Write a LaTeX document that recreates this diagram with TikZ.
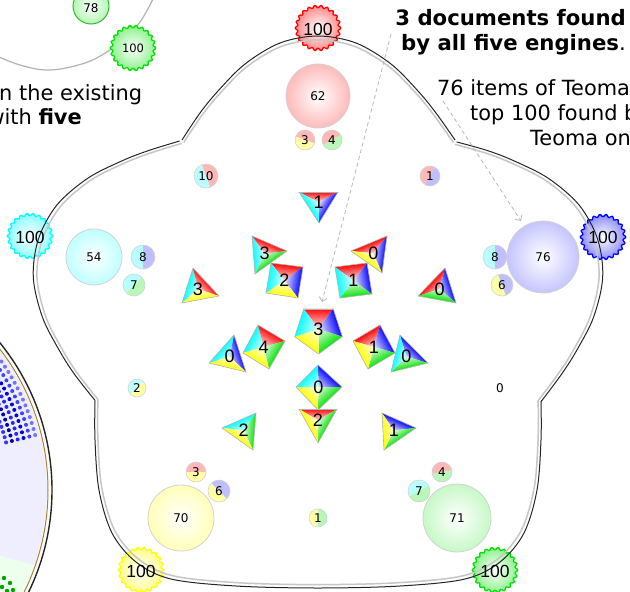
\documentclass[tikz,border=0pt]{standalone}
\usepackage{fontspec}
\setmainfont{DejaVu Sans}
\newfontfamily\arialf{Liberation Sans}
\usetikzlibrary{arrows.meta}
\definecolor{cR}{RGB}{255,0,0}
\definecolor{cB}{RGB}{0,0,255}
\definecolor{cG}{RGB}{0,225,0}
\definecolor{cY}{RGB}{255,255,0}
\definecolor{cC}{RGB}{0,255,255}
\definecolor{lav}{RGB}{238,238,255}
\definecolor{brn}{RGB}{175,125,55}

\tikzset{
  anno/.style={font=\fontsize{20.9}{24}\selectfont, inner sep=0pt},
  annob/.style={font=\fontsize{21.2}{24}\selectfont, inner sep=0pt},
  clabel/.style={font=\fontsize{12}{12}\selectfont, inner sep=0pt},
  polylabel/.style={font=\arialf\fontsize{18}{18}\selectfont, inner sep=0pt},
  badgelabel/.style={font=\arialf\fontsize{17.5}{18}\selectfont, inner sep=0pt},
  polyedge/.style={draw=gray!60, line width=0.6pt, line cap=round},
  bigborder/.style={draw=gray!35, line width=0.8pt},
  pairborder/.style={draw=gray!35, line width=0.6pt},
  outl/.style={draw=black!85, line width=1.0pt},
  outlin/.style={draw=gray!45, line width=1.5pt},
  callout/.style={draw=gray!55, line width=0.8pt, dash pattern=on 4pt off 3pt,
                  -{Straight Barb[length=4pt,width=8pt]}},
}

% sector of a polygon: centre (#1,#2), edge (#3,#4)-(#5,#6), colour #7
\newcommand\sect[7]{%
  \pgfmathsetmacro\sEx{#5-#3}%
  \pgfmathsetmacro\sEy{#6-#4}%
  \pgfmathsetmacro\sL{veclen(\sEx,\sEy)}%
  \pgfmathsetmacro\sNx{(\sEy)/\sL}%
  \pgfmathsetmacro\sNy{-(\sEx)/\sL}%
  \pgfmathsetmacro\sD{(#3-#1)*(\sNx)+(#4-#2)*(\sNy)}%
  \pgfmathsetmacro\sS{ifthenelse(\sD<0,-1,1)}%
  \pgfmathsetmacro\sA{atan2(-(\sNy)*\sS,(\sNx)*\sS)}%
  \pgfmathsetmacro\sD{abs(\sD)}%
  \begin{scope}
    \clip (#1,#2)--(#3,#4)--(#5,#6)--cycle;
    \shade[transform canvas={shift={(#1,#2)},rotate=\sA},left color=white,right color=#7]
      (-2,-40) rectangle (\sD+1,40);
  \end{scope}}

% polygon: centre #1,#2 ; edge list ax/ay/bx/by/col ; label #4 ; name #5
\newcommand\polyg[5]{%
  \foreach \pax/\pay/\pbx/\pby/\pcol in {#3} {\sect{#1}{#2}{\pax}{\pay}{\pbx}{\pby}{\pcol}}
  \foreach \pax/\pay/\pbx/\pby/\pcol in {#3} {\draw[polyedge] (\pax,\pay)--(\pbx,\pby);}
  \node[polylabel] (#5) at (#1,#2) {#4};}

% engine badge: x y colour radius
\newcommand\badge[4]{%
  \shade[inner color=white, outer color=#3!45]
    plot[domain=0:360,samples=181,variable=\t]
    ({#1+(#4+1.2*cos(22*\t))*cos(\t)},{#2+(#4+1.2*cos(22*\t))*sin(\t)}) -- cycle;
  \draw[#3, line width=1.3pt]
    plot[domain=0:360,samples=181,variable=\t]
    ({#1+(#4+1.2*cos(22*\t))*cos(\t)},{#2+(#4+1.2*cos(22*\t))*sin(\t)}) -- cycle;}

% big circle: x y r colour label name
\newcommand\bigc[6]{%
  \shade[inner color=white, outer color=#4] (#1,#2) circle[radius=#3];
  \draw[bigborder] (#1,#2) circle[radius=#3];
  \node[clabel] (#6) at (#1,#2) {#5};}

% pair circle: x y r phi col1 col2 label name
\newcommand\pairc[8]{%
  \fill[#5] (#1,#2) ++(-#4-90:#3) arc[start angle=-#4-90, end angle=-#4+90, radius=#3] -- cycle;
  \fill[#6] (#1,#2) ++(-#4+90:#3) arc[start angle=-#4+90, end angle=-#4+270, radius=#3] -- cycle;
  \draw[pairborder] (#1,#2) circle[radius=#3];
  \node[clabel] (#8) at (#1,#2) {#7};}

\begin{document}
\begin{tikzpicture}[x=1pt,y=-1pt]
\path[use as bounding box] (0,0) rectangle (630,592);
\clip (0,0) rectangle (630,592);
\fill[white] (0,0) rectangle (630,592);

% ---- neighbouring diagram, top left
\draw[gray!60, line width=1.2pt] plot[smooth, tension=0.6] coordinates
  {(-10,53) (20,65) (50,70) (85,63) (110,50) (128,35) (140,22) (150,5) (156,-8)};
\shade[inner color=white, outer color=cG!30] (91,6) circle[radius=18];
\draw[draw=cG!60!gray, line width=1pt] (91,6) circle[radius=18];
\node[clabel] (o78) at (91,8) {78};
\badge{133}{48}{cG}{21.5}
\node[font=\fontsize{11.5}{12}\selectfont, inner sep=0pt] (o100) at (133,48) {100};

% ---- neighbouring diagram, bottom left
\begin{scope}
  \clip (-182,490) circle[radius=229];
  \fill[lav] (-182,490) circle[radius=229];
  \fill[green!7] (-10,553) -- (70,575) -- (70,600) -- (-10,600) -- cycle;
  \foreach \k/\cl in {0/blue!55, 1/blue!75, 2/blue!90!black, 3/blue!85, 4/blue!70!black, 5/blue!80} {
    \foreach \a in {-43,-41.4,...,-14} {
      \fill[\cl] ({-182+(224-6*\k)*cos(\a)},{490+(224-6*\k)*sin(\a)}) circle[radius=2];
    }
  }
  \foreach \p in {(4,578),(10,583),(2,587),(13,590),(7,591)}
    \fill[green!65!black] \p circle[radius=2.2];
\end{scope}
\draw[brn, line width=1pt] (-182,490) circle[radius=230];
\draw[black!85, line width=1.4pt] (-182,490) circle[radius=234];

% ---- engine badges
\badge{318}{28}{cR}{21.5}
\badge{603}{237}{cB}{21.5}
\badge{495}{570}{cG}{21.5}
\badge{141}{570}{cY}{21.5}
\badge{30}{236}{cC}{21.5}

% ---- outline (five lobes)
\draw[outl] plot[smooth, tension=0.55] coordinates {(182,140) (200,113) (218,91) (245,64) (280,43) (318,36) (356,43) (391,64) (418,91) (436,113) (455,140)};
\draw[outl, rotate around={-72:(318,330)}] plot[smooth, tension=0.55] coordinates {(182,140) (200,113) (218,91) (245,64) (280,43) (318,36) (356,43) (391,64) (418,91) (436,113) (455,140)};
\draw[outl, rotate around={72:(318,330)}] plot[smooth, tension=0.55] coordinates {(182,140) (200,113) (218,91) (245,64) (280,43) (318,36) (356,43) (391,64) (418,91) (436,113) (455,140)};
\draw[outl] plot[smooth, tension=0.55] coordinates {(541,401) (541,440) (537,490) (524,533) (500,562) (465,579) (400,586) (318,588) (236,586) (171,579) (136,562) (112,533) (99,490) (95,440) (95,401)};
\begin{scope}[shift={(318,330)}, scale=0.987, shift={(-318,-330)}]
\draw[outlin] plot[smooth, tension=0.55] coordinates {(182,140) (200,113) (218,91) (245,64) (280,43) (318,36) (356,43) (391,64) (418,91) (436,113) (455,140)};
\draw[outlin, rotate around={-72:(318,330)}] plot[smooth, tension=0.55] coordinates {(182,140) (200,113) (218,91) (245,64) (280,43) (318,36) (356,43) (391,64) (418,91) (436,113) (455,140)};
\draw[outlin, rotate around={72:(318,330)}] plot[smooth, tension=0.55] coordinates {(182,140) (200,113) (218,91) (245,64) (280,43) (318,36) (356,43) (391,64) (418,91) (436,113) (455,140)};
\draw[outlin] plot[smooth, tension=0.55] coordinates {(541,401) (541,440) (537,490) (524,533) (500,562) (465,579) (400,586) (318,588) (236,586) (171,579) (136,562) (112,533) (99,490) (95,440) (95,401)};
\end{scope}

% ---- badge labels
\node[badgelabel] (bR) at (318,29) {100};
\node[badgelabel] (bB) at (603,237) {100};
\node[badgelabel] (bG) at (495,571) {100};
\node[badgelabel] (bY) at (141,571) {100};
\node[badgelabel] (bC) at (30,237) {100};

% ---- single-engine circles
\bigc{318}{96}{32}{cR!27}{62}{sR}
\bigc{543}{257}{36}{cB!23}{76}{sB}
\bigc{457}{518}{34}{cG!22}{71}{sG}
\bigc{181}{518}{33}{cY!28}{70}{sY}
\bigc{94}{257}{28}{cC!25}{54}{sC}

% ---- two-engine circles
\pairc{305}{140}{10}{70}{cR!28}{cY!35}{3}{pRY}
\pairc{332}{140}{10}{120}{cR!28}{cG!28}{4}{pRG}
\pairc{206}{176}{12}{20}{cR!28}{cC!28}{10}{pRC}
\pairc{430}{176}{10}{150}{cR!28}{cB!25}{1}{pRB}
\pairc{143}{257}{12}{180}{cC!28}{cB!25}{8}{pCB}
\pairc{134}{285}{11}{135}{cC!28}{cG!28}{7}{pCG}
\pairc{495}{257}{12}{180}{cC!28}{cB!25}{8}{pBC}
\pairc{502}{285}{11}{200}{cY!35}{cB!25}{6}{pBY}
\pairc{137}{388}{9}{135}{cC!25}{cY!35}{2}{pCY}
\pairc{318}{518}{9}{180}{cY!35}{cG!28}{1}{pYG}
\pairc{196}{472}{10}{90}{cR!28}{cY!35}{3}{pYR}
\pairc{219}{491}{11}{45}{cB!25}{cY!35}{6}{pYB}
\pairc{442}{472}{10}{100}{cR!28}{cG!28}{4}{pGR}
\pairc{419}{491}{11}{120}{cC!28}{cG!28}{7}{pGC}
\node[clabel] (pBG) at (500,388) {0};

% ---- three-, four- and five-engine polygons
\polyg{318.7}{202.3}{299/192/338/192/cR, 338/192/319/223/cB, 319/223/299/192/cC}{1}{t1}
\polyg{264.7}{253.7}{252/236/287/251/cR, 287/251/255/274/cG, 255/274/252/236/cC}{3}{t2}
\polyg{284.5}{280.3}{271/263/303/267/cR, 303/267/298/298/cB, 298/298/266/293/cY, 266/293/271/263/cC}{2}{q1}
\polyg{353.5}{280.5}{335/267/367/263/cR, 367/263/372/294/cB, 372/294/340/298/cG, 340/298/335/267/cC}{1}{q2}
\polyg{373.3}{253.3}{351/251/387/236/cR, 387/236/382/273/cB, 382/273/351/251/cY}{0}{t3}
\polyg{198}{289}{182/303/193/268/cC, 193/268/219/296/cR, 219/296/182/303/cY}{3}{t4}
\polyg{439.7}{289}{418/296/445/268/cR, 445/268/456/303/cB, 456/303/418/296/cG}{0}{t5}
\polyg{318.5}{329}{303.8/308.8/333.2/308.8/cR, 333.2/308.8/342.3/336.7/cB, 342.3/336.7/318.5/354/cG, 318.5/354/294.7/336.7/cY, 294.7/336.7/303.8/308.8/cC}{3}{pent}
\polyg{263.75}{347}{243/353/258/325/cC, 258/325/285/341/cR, 285/341/269/369/cG, 269/369/243/353/cY}{4}{q3}
\polyg{229.7}{356.7}{209/363/234/335/cC, 234/335/246/372/cB, 246/372/209/363/cY}{0}{t6}
\polyg{374}{347}{353/341/380/325/cR, 380/325/395/353/cB, 395/353/368/369/cG, 368/369/353/341/cY}{1}{q4}
\polyg{406.3}{356.7}{400/335/428/363/cB, 428/363/391/372/cG, 391/372/400/335/cC}{0}{t7}
\polyg{318.5}{387.3}{318/365/342/387/cB, 342/387/318/410/cG, 318/410/296/387/cY, 296/387/318/365/cC}{0}{dia}
\polyg{318}{420.3}{299/409/337/409/cR, 337/409/318/443/cG, 318/443/299/409/cY}{2}{t8}
\polyg{243.7}{430.3}{222/428/256/413/cC, 256/413/253/450/cG, 253/450/222/428/cY}{2}{t9}
\polyg{394}{430.3}{382/413/416/428/cB, 416/428/384/450/cG, 384/450/382/413/cY}{1}{t10}

% ---- annotations
\node[anno, anchor=base west] (txA) at (-1,100) {n the existing};
\node[anno, anchor=base east] (txB) at (82,124) {with \textbf{five}};
\node[annob, anchor=base east] (txC) at (626,25) {\textbf{3 documents found}};
\node[annob, anchor=base east] (txD) at (626,50) {\textbf{by all five engines}.};
\node[anno, anchor=base west] (txE) at (437,95) {76 items of Teoma};
\node[anno, anchor=base west] (txF) at (470,120) {top 100 found by};
\node[anno, anchor=base west] (txG) at (530,145) {Teoma only.};

\coordinate (a1s) at (391,34);
\coordinate (a1e) at (322,302);
\draw[callout] (a1s) -- (a1e);
\coordinate (a2s) at (443,101);
\coordinate (a2e) at (521,221);
\draw[callout] (a2s) -- (a2e);
\end{tikzpicture}
\end{document}
